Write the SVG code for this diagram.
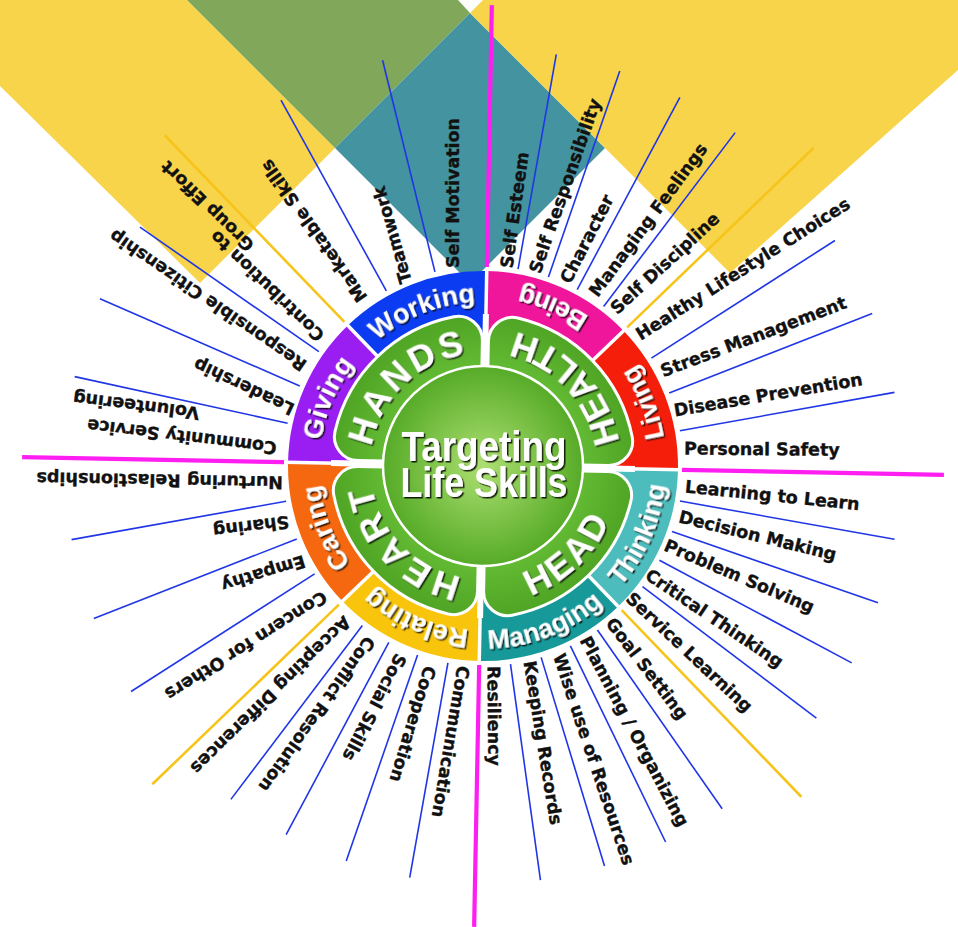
<svg xmlns="http://www.w3.org/2000/svg" width="958" height="927" viewBox="0 0 958 927">
<defs>
<style>
.bl{stroke:#2036e6;stroke-width:1.6}
.yl{stroke:#f6c41a;stroke-width:2.6}
.pk{stroke:#ff1ef2;stroke-width:4.2}
.gap{stroke:#fff;stroke-width:3.5}
.lab{font-family:"DejaVu Sans",Verdana,sans-serif;font-weight:bold;font-size:17.5px;fill:#111;stroke:#111;stroke-width:0.35}
.ring{font-family:"Liberation Sans",Arial,sans-serif;font-weight:bold;font-size:27px;fill:#fff}
.pet{font-family:"Liberation Sans",Arial,sans-serif;font-weight:bold;font-size:36px;fill:#fff;letter-spacing:3px}
.ctr{font-family:"Liberation Sans",Arial,sans-serif;font-weight:bold;font-size:42px;fill:#fff}
</style>
<filter id="sh" x="-20%" y="-30%" width="140%" height="160%">
<feDropShadow dx="1.5" dy="1.5" stdDeviation="0.7" flood-color="#000" flood-opacity="0.85"/>
</filter>
<radialGradient id="cg" cx="50%" cy="50%" r="50%">
<stop offset="0" stop-color="#addf72"/><stop offset="1" stop-color="#56ab27"/>
</radialGradient>
<radialGradient id="pg" gradientUnits="userSpaceOnUse" cx="0" cy="0" r="152">
<stop offset="0.6" stop-color="#66bd35"/><stop offset="1" stop-color="#4fa524"/>
</radialGradient>
<path id="petal" d="M 84.95 3 L 125.12 3 A 24 24 0 0 1 148.58 32.06 A 152 152 0 0 1 32.06 148.58 A 24 24 0 0 1 3 125.12 L 3 84.95 A 85 85 0 0 0 84.95 3 Z"/>
<path id="sec" d="M 195 0 A 195 195 0 0 1 137.886 137.886 L 81.317 81.317 A 115 115 0 0 0 115 0 Z"/>
<path id="pWork" d="M -115.966 -115.966 A 164 164 0 0 1 0 -164"/>
<path id="pRel" d="M 0 164 A 164 164 0 0 1 -115.966 115.966"/>
<path id="pCar" d="M -115.966 115.966 A 164 164 0 0 1 -164 0"/>
<path id="pGiv" d="M -164 0 A 164 164 0 0 1 -115.966 -115.966"/>
<path id="pBei" d="M 129.401 -129.401 A 183 183 0 0 0 0 -183"/>
<path id="pLiv" d="M 183 0 A 183 183 0 0 0 129.401 -129.401"/>
<path id="pThi" d="M 129.401 129.401 A 183 183 0 0 0 183 0"/>
<path id="pMan" d="M 0 183 A 183 183 0 0 0 129.401 129.401"/>
<path id="pHands" d="M -113 0 A 113 113 0 0 1 0 -113"/>
<path id="pHeart" d="M 0 113 A 113 113 0 0 1 -113 0"/>
<path id="pHealth" d="M 138 0 A 138 138 0 0 0 0 -138"/>
<path id="pHead" d="M 0 138 A 138 138 0 0 0 138 0"/>
</defs>

<g id="background">
<polygon fill="#f8d44b" points="0,0 187,0 335,148 200,283 0,86"/>
<polygon fill="#80a75a" points="187,0 458,0 470,13 335,148"/>
<polygon fill="#4493a0" points="470,13 605,148 470,283 335,148"/>
<polygon fill="#f8d44b" points="483,0 958,0 958,70 730,273 605,148 470,13"/>
</g>

<g id="wheel" transform="translate(483 466) rotate(1.1)">
<g id="connectors">
<line class="pk" x1="199" y1="0" x2="461" y2="0"/>
<line class="pk" x1="199" y1="0" x2="461" y2="0" transform="rotate(90)"/>
<line class="pk" x1="199" y1="0" x2="461" y2="0" transform="rotate(180)"/>
<line class="pk" x1="199" y1="0" x2="461" y2="0" transform="rotate(270)"/>
<line class="yl" x1="200" y1="0" x2="459" y2="0" transform="rotate(45)"/>
<line class="yl" x1="200" y1="0" x2="459" y2="0" transform="rotate(135)"/>
<line class="yl" x1="200" y1="0" x2="459" y2="0" transform="rotate(225)"/>
<line class="yl" x1="200" y1="0" x2="459" y2="0" transform="rotate(315)"/>
<line class="bl" x1="200" y1="0" x2="418" y2="0" transform="rotate(9)"/>
<line class="bl" x1="200" y1="0" x2="418" y2="0" transform="rotate(18)"/>
<line class="bl" x1="200" y1="0" x2="418" y2="0" transform="rotate(27)"/>
<line class="bl" x1="200" y1="0" x2="418" y2="0" transform="rotate(36)"/>
<line class="bl" x1="200" y1="0" x2="418" y2="0" transform="rotate(54)"/>
<line class="bl" x1="200" y1="0" x2="418" y2="0" transform="rotate(63)"/>
<line class="bl" x1="200" y1="0" x2="418" y2="0" transform="rotate(72)"/>
<line class="bl" x1="200" y1="0" x2="418" y2="0" transform="rotate(81)"/>
<line class="bl" x1="200" y1="0" x2="418" y2="0" transform="rotate(99)"/>
<line class="bl" x1="200" y1="0" x2="418" y2="0" transform="rotate(108)"/>
<line class="bl" x1="200" y1="0" x2="418" y2="0" transform="rotate(117)"/>
<line class="bl" x1="200" y1="0" x2="418" y2="0" transform="rotate(126)"/>
<line class="bl" x1="200" y1="0" x2="418" y2="0" transform="rotate(146.25)"/>
<line class="bl" x1="200" y1="0" x2="418" y2="0" transform="rotate(157.5)"/>
<line class="bl" x1="200" y1="0" x2="418" y2="0" transform="rotate(168.75)"/>
<line class="bl" x1="200" y1="0" x2="418" y2="0" transform="rotate(191.25)"/>
<line class="bl" x1="200" y1="0" x2="418" y2="0" transform="rotate(202.5)"/>
<line class="bl" x1="200" y1="0" x2="418" y2="0" transform="rotate(213.75)"/>
<line class="bl" x1="200" y1="0" x2="418" y2="0" transform="rotate(240)"/>
<line class="bl" x1="200" y1="0" x2="418" y2="0" transform="rotate(255)"/>
<line class="bl" x1="200" y1="0" x2="418" y2="0" transform="rotate(279)"/>
<line class="bl" x1="200" y1="0" x2="418" y2="0" transform="rotate(288)"/>
<line class="bl" x1="200" y1="0" x2="418" y2="0" transform="rotate(297)"/>
<line class="bl" x1="200" y1="0" x2="418" y2="0" transform="rotate(306)"/>
<line class="bl" x1="200" y1="0" x2="418" y2="0" transform="rotate(326.25)"/>
<line class="bl" x1="200" y1="0" x2="418" y2="0" transform="rotate(337.5)"/>
<line class="bl" x1="200" y1="0" x2="418" y2="0" transform="rotate(348.75)"/>
</g>

<g id="seg-thinking"><use href="#sec" fill="#4dbcbc"/></g>
<g id="seg-managing"><use href="#sec" fill="#17999a" transform="rotate(45)"/></g>
<g id="seg-relating"><use href="#sec" fill="#f8c40c" transform="rotate(90)"/></g>
<g id="seg-caring"><use href="#sec" fill="#f5680f" transform="rotate(135)"/></g>
<g id="seg-giving"><use href="#sec" fill="#9a1ef2" transform="rotate(180)"/></g>
<g id="seg-working"><use href="#sec" fill="#0c3cf2" transform="rotate(225)"/></g>
<g id="seg-being"><use href="#sec" fill="#f0169c" transform="rotate(270)"/></g>
<g id="seg-living"><use href="#sec" fill="#f41e0a" transform="rotate(315)"/></g>

<g id="gaps">
<line x1="0" y1="0" x2="152" y2="0" stroke="#fff" stroke-width="6"/>
<line x1="0" y1="0" x2="0" y2="152" stroke="#fff" stroke-width="6"/>
<line x1="0" y1="0" x2="-152" y2="0" stroke="#fff" stroke-width="6"/>
<line x1="0" y1="0" x2="0" y2="-152" stroke="#fff" stroke-width="6"/>
<line class="gap" x1="146" y1="0" x2="197" y2="0"/>
<line class="gap" x1="146" y1="0" x2="197" y2="0" transform="rotate(45)"/>
<line class="gap" x1="146" y1="0" x2="197" y2="0" transform="rotate(90)"/>
<line class="gap" x1="146" y1="0" x2="197" y2="0" transform="rotate(135)"/>
<line class="gap" x1="146" y1="0" x2="197" y2="0" transform="rotate(180)"/>
<line class="gap" x1="146" y1="0" x2="197" y2="0" transform="rotate(225)"/>
<line class="gap" x1="146" y1="0" x2="197" y2="0" transform="rotate(270)"/>
<line class="gap" x1="146" y1="0" x2="197" y2="0" transform="rotate(315)"/>
</g>

<g id="petal-head"><use href="#petal" fill="url(#pg)" stroke="#fff" stroke-width="3"/></g>
<g id="petal-heart"><use href="#petal" fill="url(#pg)" stroke="#fff" stroke-width="3" transform="rotate(90)"/></g>
<g id="petal-hands"><use href="#petal" fill="url(#pg)" stroke="#fff" stroke-width="3" transform="rotate(180)"/></g>
<g id="petal-health"><use href="#petal" fill="url(#pg)" stroke="#fff" stroke-width="3" transform="rotate(270)"/></g>

<g id="center-disc"><circle cx="0" cy="0" r="100" fill="url(#cg)" stroke="#fff" stroke-width="2.5"/></g>

<g id="ring-labels" filter="url(#sh)">
<text class="ring"><textPath href="#pWork" startOffset="50%" text-anchor="middle">Working</textPath></text>
<text class="ring"><textPath href="#pBei" startOffset="50%" text-anchor="middle">Being</textPath></text>
<text class="ring"><textPath href="#pLiv" startOffset="50%" text-anchor="middle">Living</textPath></text>
<text class="ring"><textPath href="#pThi" startOffset="50%" text-anchor="middle">Thinking</textPath></text>
<text class="ring"><textPath href="#pMan" startOffset="50%" text-anchor="middle">Managing</textPath></text>
<text class="ring"><textPath href="#pRel" startOffset="50%" text-anchor="middle">Relating</textPath></text>
<text class="ring"><textPath href="#pCar" startOffset="50%" text-anchor="middle">Caring</textPath></text>
<text class="ring"><textPath href="#pGiv" startOffset="50%" text-anchor="middle">Giving</textPath></text>
</g>
<g id="petal-labels" filter="url(#sh)">
<text class="pet"><textPath href="#pHands" startOffset="50%" text-anchor="middle">HANDS</textPath></text>
<text class="pet"><textPath href="#pHealth" startOffset="50%" text-anchor="middle">HEALTH</textPath></text>
<text class="pet"><textPath href="#pHead" startOffset="50%" text-anchor="middle">HEAD</textPath></text>
<text class="pet"><textPath href="#pHeart" startOffset="50%" text-anchor="middle">HEART</textPath></text>
</g>
</g>

<g id="center-title" filter="url(#sh)">
<text class="ctr" x="484" y="461" text-anchor="middle" textLength="165" lengthAdjust="spacingAndGlyphs">Targeting</text>
<text class="ctr" x="484" y="497" text-anchor="middle" textLength="167" lengthAdjust="spacingAndGlyphs">Life Skills</text>
</g>

<g id="skills" class="lab">
<g id="s-marketable"><text transform="translate(363.5 300) rotate(234.7)" y="5.5">Marketable Skills</text></g>
<g id="s-teamwork"><text transform="translate(406.7 282.8) rotate(253.9)" y="5.5">Teamwork</text></g>
<g id="s-selfmotivation"><text transform="translate(453 268) rotate(-90)" y="5.5">Self Motivation</text></g>
<g id="s-selfesteem"><text transform="translate(507 268) rotate(-82)" y="5.5">Self Esteem</text></g>
<g id="s-selfresp"><text transform="translate(535 272.7) rotate(-70.6)" y="5.5">Self Responsibility</text></g>
<g id="s-character"><text transform="translate(565.3 282.3) rotate(-62.9)" y="5.5">Character</text></g>
<g id="s-managingfeelings"><text transform="translate(593.4 294.8) rotate(-53.5)" y="5.5">Managing Feelings</text></g>
<g id="s-selfdiscipline"><text transform="translate(613.6 311.1) rotate(-42.5)" y="5.5">Self Discipline</text></g>
<g id="s-healthy"><text transform="translate(637.9 336.2) rotate(-32.4)" y="5.5">Healthy Lifestyle Choices</text></g>
<g id="s-stress"><text transform="translate(661.4 372.1) rotate(-20.7)" y="5.5">Stress Management</text></g>
<g id="s-disease"><text transform="translate(674.1 411) rotate(-9.5)" y="5.5">Disease Prevention</text></g>
<g id="s-safety"><text transform="translate(684 449) rotate(0.5)" y="5.5">Personal Safety</text></g>
<g id="s-learning"><text transform="translate(685 487) rotate(5.8)" y="5.5">Learning to Learn</text></g>
<g id="s-decision"><text transform="translate(679 517) rotate(13.7)" y="5.5">Decision Making</text></g>
<g id="s-problem"><text transform="translate(665 545) rotate(23.1)" y="5.5">Problem Solving</text></g>
<g id="s-critical"><text transform="translate(647 573.7) rotate(33.9)" y="5.5">Critical Thinking</text></g>
<g id="s-service"><text transform="translate(628.6 595.9) rotate(43.2)" y="5.5">Service Learning</text></g>
<g id="s-goal"><text transform="translate(609.4 620.2) rotate(52.7)" y="5.5">Goal Setting</text></g>
<g id="s-planning"><text transform="translate(584.2 637.7) rotate(62.1)" y="5.5">Planning / Organizing</text></g>
<g id="s-wise"><text transform="translate(558.1 654.3) rotate(71.5)" y="5.5">Wise use of Resources</text></g>
<g id="s-keeping"><text transform="translate(529 661) rotate(80.7)" y="5.5">Keeping Records</text></g>
<g id="s-resiliency"><text transform="translate(493 666) rotate(89.5)" y="5.5">Resiliency</text></g>
<g id="s-communication"><text transform="translate(463 666) rotate(99.7)" y="5.5">Communication</text></g>
<g id="s-cooperation"><text transform="translate(429.8 666.3) rotate(107)" y="5.5">Cooperation</text></g>
<g id="s-social"><text transform="translate(400.8 654.7) rotate(117.3)" y="5.5">Social Skills</text></g>
<g id="s-conflict"><text transform="translate(370.5 638.1) rotate(125.5)" y="5.5">Conflict Resolution</text></g>
<g id="s-accepting"><text transform="translate(347.3 618.8) rotate(135.4)" y="5.5">Accepting Differences</text></g>
<g id="s-concern"><text transform="translate(325 595) rotate(147.6)" y="5.5">Concern for Others</text></g>
<g id="s-empathy"><text transform="translate(304.7 560.2) rotate(163)" y="5.5">Empathy</text></g>
<g id="s-sharing"><text transform="translate(289 521.3) rotate(173)" y="5.5">Sharing</text></g>
<g id="s-nurturing"><text transform="translate(283 482.1) rotate(181)" y="5.5">Nurturing Relastionships</text></g>
<g id="s-community"><text transform="rotate(187 483 466)"><tspan x="690" y="464.5">Community Service</tspan><tspan x="771" y="489.5">Volunteering</tspan></text></g>
<g id="s-leadership"><text transform="translate(293.4 409.6) rotate(205.4)" y="5.5">Leadership</text></g>
<g id="s-citizenship"><text transform="translate(305 366.5) rotate(214.5)" y="5.5">Responsible Citizenship</text></g>
<g id="s-contribution"><text transform="rotate(224 483 466)"><tspan x="688" y="451.5">Contribution to</tspan><tspan x="801" y="467.5">Group Effort</tspan></text></g>
</g>
</svg>
